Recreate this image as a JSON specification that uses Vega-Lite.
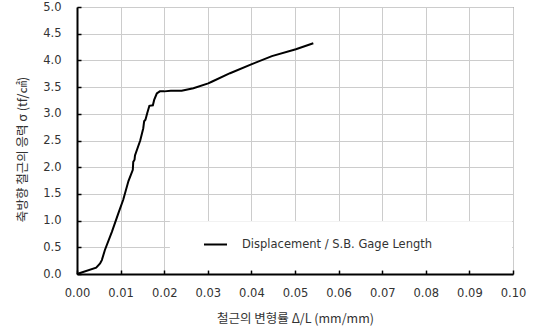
{
  "$schema": "https://vega.github.io/schema/vega-lite/v6.json",
  "width": 436,
  "height": 267,
  "autosize": {"type": "none"},
  "padding": {"left": 77, "top": 7, "right": 21, "bottom": 59},
  "background": "white",
  "config": {
    "font": "DejaVu Sans",
    "view": {"stroke": "#555555", "strokeWidth": 1},
    "axis": {
      "domainColor": "black",
      "domainWidth": 2,
      "tickColor": "black",
      "tickWidth": 1.5,
      "gridColor": "#cccccc",
      "gridWidth": 1,
      "grid": true,
      "labelColor": "#333333",
      "labelFontSize": 11.5,
      "labelFont": "DejaVu Sans",
      "labelFlush": false,
      "labelOverlap": false,
      "titleFont": "Noto Sans CJK KR",
      "titleFontSize": 12.5,
      "titleFontWeight": "normal",
      "titleColor": "#333333"
    }
  },
  "resolve": {"axis": {"x": "independent", "y": "independent"}},
  "layer": [
    {
      "data": {
        "values": [
          {"strain": 0.0, "stress": 0.0, "series": "Displacement / S.B. Gage Length"},
          {"strain": 0.0044, "stress": 0.12, "series": "Displacement / S.B. Gage Length"},
          {"strain": 0.0053, "stress": 0.2, "series": "Displacement / S.B. Gage Length"},
          {"strain": 0.0057, "stress": 0.26, "series": "Displacement / S.B. Gage Length"},
          {"strain": 0.0064, "stress": 0.45, "series": "Displacement / S.B. Gage Length"},
          {"strain": 0.008, "stress": 0.79, "series": "Displacement / S.B. Gage Length"},
          {"strain": 0.0095, "stress": 1.14, "series": "Displacement / S.B. Gage Length"},
          {"strain": 0.0106, "stress": 1.39, "series": "Displacement / S.B. Gage Length"},
          {"strain": 0.0118, "stress": 1.74, "series": "Displacement / S.B. Gage Length"},
          {"strain": 0.0128, "stress": 1.95, "series": "Displacement / S.B. Gage Length"},
          {"strain": 0.0129, "stress": 2.1, "series": "Displacement / S.B. Gage Length"},
          {"strain": 0.0132, "stress": 2.14, "series": "Displacement / S.B. Gage Length"},
          {"strain": 0.0133, "stress": 2.22, "series": "Displacement / S.B. Gage Length"},
          {"strain": 0.0145, "stress": 2.5, "series": "Displacement / S.B. Gage Length"},
          {"strain": 0.0152, "stress": 2.73, "series": "Displacement / S.B. Gage Length"},
          {"strain": 0.0154, "stress": 2.86, "series": "Displacement / S.B. Gage Length"},
          {"strain": 0.0157, "stress": 2.89, "series": "Displacement / S.B. Gage Length"},
          {"strain": 0.0161, "stress": 3.01, "series": "Displacement / S.B. Gage Length"},
          {"strain": 0.0166, "stress": 3.15, "series": "Displacement / S.B. Gage Length"},
          {"strain": 0.0174, "stress": 3.16, "series": "Displacement / S.B. Gage Length"},
          {"strain": 0.0177, "stress": 3.26, "series": "Displacement / S.B. Gage Length"},
          {"strain": 0.0183, "stress": 3.38, "series": "Displacement / S.B. Gage Length"},
          {"strain": 0.019, "stress": 3.42, "series": "Displacement / S.B. Gage Length"},
          {"strain": 0.02, "stress": 3.42, "series": "Displacement / S.B. Gage Length"},
          {"strain": 0.0215, "stress": 3.43, "series": "Displacement / S.B. Gage Length"},
          {"strain": 0.024, "stress": 3.43, "series": "Displacement / S.B. Gage Length"},
          {"strain": 0.0267, "stress": 3.48, "series": "Displacement / S.B. Gage Length"},
          {"strain": 0.0301, "stress": 3.57, "series": "Displacement / S.B. Gage Length"},
          {"strain": 0.0309, "stress": 3.6, "series": "Displacement / S.B. Gage Length"},
          {"strain": 0.0351, "stress": 3.76, "series": "Displacement / S.B. Gage Length"},
          {"strain": 0.0401, "stress": 3.93, "series": "Displacement / S.B. Gage Length"},
          {"strain": 0.0447, "stress": 4.08, "series": "Displacement / S.B. Gage Length"},
          {"strain": 0.0502, "stress": 4.21, "series": "Displacement / S.B. Gage Length"},
          {"strain": 0.0542, "stress": 4.32, "series": "Displacement / S.B. Gage Length"}
        ]
      },
      "mark": {"type": "line", "strokeWidth": 2},
      "encoding": {
        "x": {
          "field": "strain",
          "type": "quantitative",
          "scale": {"domain": [0, 0.1], "nice": false},
          "axis": {
            "orient": "bottom",
            "title": "철근의 변형률 Δ/L (mm/mm)",
            "values": [0, 0.01, 0.02, 0.03, 0.04, 0.05, 0.06, 0.07, 0.08, 0.09, 0.1],
            "format": ".2f",
            "tickSize": -4,
            "labelPadding": 17,
            "titlePadding": 14
          }
        },
        "y": {
          "field": "stress",
          "type": "quantitative",
          "scale": {"domain": [0, 5], "nice": false},
          "axis": {
            "orient": "left",
            "title": "축방향 철근의 응력 σ (tf/㎠)",
            "values": [0, 0.5, 1, 1.5, 2, 2.5, 3, 3.5, 4, 4.5, 5],
            "format": ".1f",
            "tickSize": -4,
            "labelPadding": 20,
            "titlePadding": 13,
            "titleY": 142
          }
        },
        "color": {
          "field": "series",
          "type": "nominal",
          "scale": {"range": ["black"]},
          "legend": {
            "title": null,
            "orient": "none",
            "legendX": 126,
            "legendY": 225,
            "padding": 0,
            "symbolType": "stroke",
            "symbolSize": 529,
            "symbolStrokeWidth": 2,
            "labelOffset": 14,
            "labelFontSize": 11.5,
            "labelFont": "DejaVu Sans",
            "labelColor": "#333333",
            "labelLimit": 400
          }
        }
      }
    },
    {
      "data": {"values": [{"box": "legend"}]},
      "mark": {"type": "rect", "color": "white"},
      "encoding": {
        "x": {"datum": 0.0213, "type": "quantitative", "axis": null},
        "x2": {"datum": 0.0998},
        "y": {"datum": 0.07, "type": "quantitative", "axis": null},
        "y2": {"datum": 0.99}
      }
    }
  ]
}
